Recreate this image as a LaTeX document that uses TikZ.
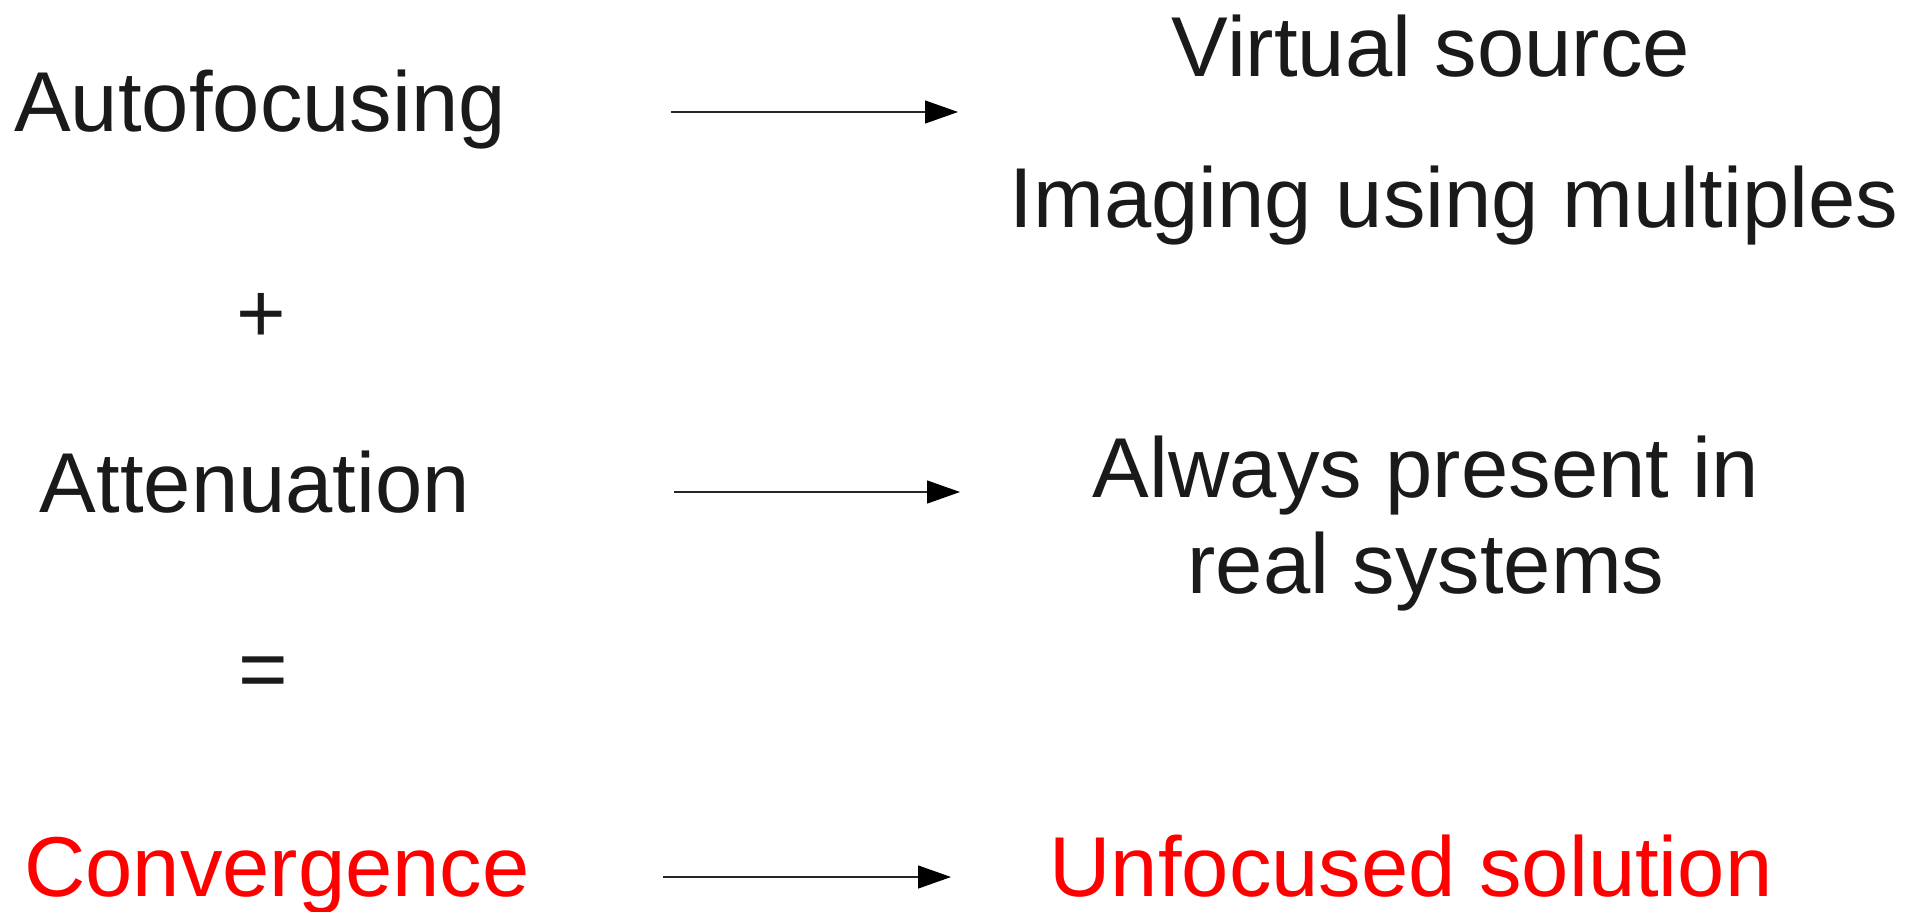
\documentclass[tikz,border=0pt]{standalone}
\usepackage{fontspec}
\setmainfont{Liberation Sans}
\usetikzlibrary{arrows.meta}
\definecolor{txt}{HTML}{1A1A1A}
\tikzset{
  lbl/.style={inner sep=0pt, anchor=base, text=txt, font=\fontsize{85}{96}\selectfont},
  redlbl/.style={lbl, text=red},
  conn/.style={line width=1.2pt, draw=black!85, -{Triangle[length=33pt,width=23pt,fill=black,color=black]}}
}
\begin{document}
\begin{tikzpicture}[x=1pt,y=-1pt]
\useasboundingbox (0,0) rectangle (1924,911);
\node[lbl] (auto) at (260,131) {Autofocusing};
\node[lbl] (virt) at (1431,76) {Virtual source};
\node[lbl] (imag) at (1454,227) {Imaging using multiples};
\node[lbl] (plus) at (261,342) {+};
\node[lbl] (att) at (255,512) {Attenuation};
\node[lbl, align=center] (alw) at (1426,593) {Always present in\\real systems};
\node[lbl] (eq) at (263,698) {=};
\node[redlbl] (conv) at (277,896) {Convergence};
\node[redlbl] (unf) at (1411,896) {Unfocused solution};
\coordinate (a1s) at (671,112);
\coordinate (a1e) at (958,112);
\coordinate (a2s) at (674,492);
\coordinate (a2e) at (960,492);
\coordinate (a3s) at (663,877);
\coordinate (a3e) at (951,877);
\draw[conn] (a1s) -- (a1e);
\draw[conn] (a2s) -- (a2e);
\draw[conn] (a3s) -- (a3e);
\end{tikzpicture}
\end{document}
